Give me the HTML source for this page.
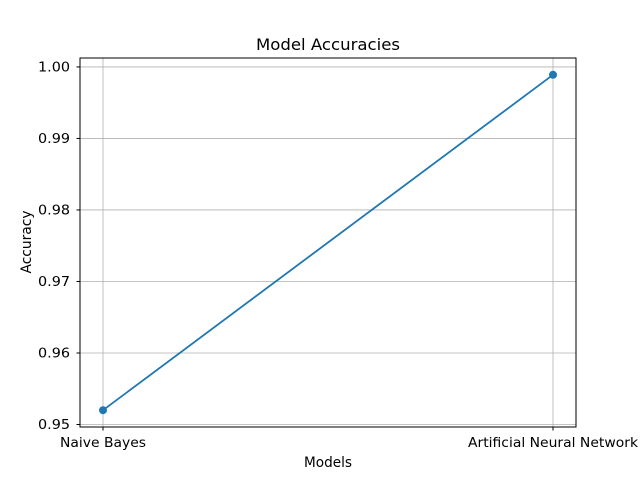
<!DOCTYPE html>
<html><head><meta charset="utf-8"><style>
html,body{margin:0;padding:0;background:#fff;}
svg text{font-family:"DejaVu Sans","Liberation Sans",sans-serif;}
</style></head><body>
<svg id="chart" width="640" height="480" xmlns="http://www.w3.org/2000/svg">
<rect width="640" height="480" fill="#fff"/>
<text x="328" y="50" text-anchor="middle" font-size="16" textLength="144" lengthAdjust="spacingAndGlyphs" fill="#000">Model Accuracies</text>
<g id="grid"></g>
<g id="axes"></g>
<g id="series"></g>
<text x="328" y="467" text-anchor="middle" font-size="13.8" textLength="48" lengthAdjust="spacingAndGlyphs">Models</text>
<text transform="translate(31,242) rotate(-90)" text-anchor="middle" font-size="13.8" textLength="63" lengthAdjust="spacingAndGlyphs">Accuracy</text>
</svg>
<script>
const categories = ["Naive Bayes", "Artificial Neural Network"];
const accuracies = [0.952, 0.9989];
const yTicks = [0.95, 0.96, 0.97, 0.98, 0.99, 1.00];
const yTickLabels = ["0.95", "0.96", "0.97", "0.98", "0.99", "1.00"];

const L = 80, R = 576, T = 58, B = 427;
const yMin = 0.94965, yMax = 1.00125;
const ns = "http://www.w3.org/2000/svg";
function xs(i){ return 103 + i * (553 - 103) / (categories.length - 1); }
function ys(v){ return B - (v - yMin) / (yMax - yMin) * (B - T); }
function mk(tag, attrs, parent){ const e = document.createElementNS(ns, tag); for (const k in attrs) e.setAttribute(k, attrs[k]); parent.appendChild(e); return e; }

const grid = document.getElementById('grid');
const axes = document.getElementById('axes');
const series = document.getElementById('series');

yTicks.forEach((t, i) => {
  const y = ys(t);
  const g = mk('line', {x1: L, x2: R, y1: y, y2: y, stroke: '#b0b0b0', 'stroke-width': 0.8}, grid);
  
  
  const tk = mk('line', {x1: L - 3.5, x2: L, y1: y, y2: y, stroke: '#000', 'stroke-width': 1}, axes);
  
  
  const lb = mk('text', {x: L - 10, y: y + 4.5, 'text-anchor': 'end', 'font-size': 13.3, textLength: 32, lengthAdjust: 'spacingAndGlyphs'}, axes);
  lb.textContent = yTickLabels[i];
  
  
});
const xLabelWidths = [86, 170];
categories.forEach((c, i) => {
  const x = xs(i);
  const g = mk('line', {x1: x, x2: x, y1: T, y2: B, stroke: '#b0b0b0', 'stroke-width': 0.8}, grid);
  
  
  const tk = mk('line', {x1: x, x2: x, y1: B, y2: B + 3.5, stroke: '#000', 'stroke-width': 1}, axes);
  
  
  const lb = mk('text', {x: x, y: B + 20, 'text-anchor': 'middle', 'font-size': 13.3, textLength: xLabelWidths[i], lengthAdjust: 'spacingAndGlyphs'}, axes);
  lb.textContent = c;
  
  
});
const frame = mk('rect', {x: L, y: T, width: R - L, height: B - T, fill: 'none', stroke: '#000', 'stroke-width': 1}, axes);



const pts = accuracies.map((v, i) => xs(i) + ',' + ys(v)).join(' ');
const line = mk('polyline', {points: pts, fill: 'none', stroke: '#1f77b4', 'stroke-width': 1.8}, series);


accuracies.forEach((v, i) => {
  const p = mk('circle', {cx: xs(i), cy: ys(v), r: 4, fill: '#1f77b4'}, series);
  
  
});
</script>
</body></html>
